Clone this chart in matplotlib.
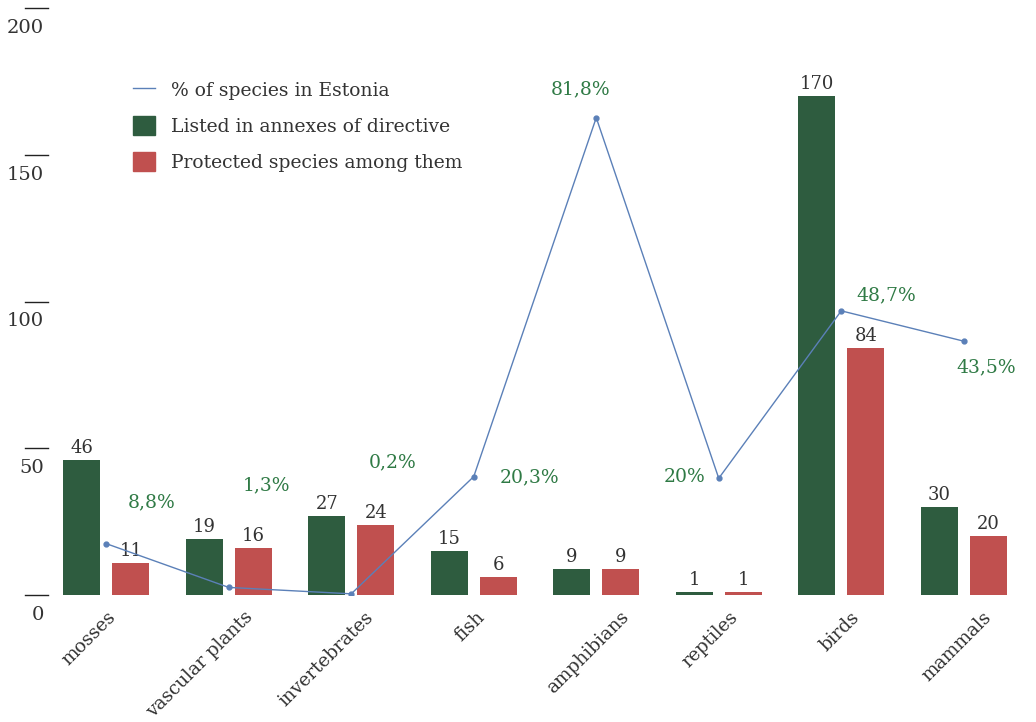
import numpy as np
import matplotlib
matplotlib.use("Agg")
import matplotlib.pyplot as plt
from matplotlib.patches import Patch
from matplotlib.lines import Line2D

plt.rcParams['font.family'] = ['DejaVu Serif']

# Species counts per group
categories = ['mosses', 'vascular plants', 'invertebrates', 'fish',
              'amphibians', 'reptiles', 'birds', 'mammals']
listed = [46, 19, 27, 15, 9, 1, 170, 30]
protected = [11, 16, 24, 6, 9, 1, 84, 20]
pct_estonia = [8.8, 1.3, 0.2, 20.3, 81.8, 20, 48.7, 43.5]

# where each percentage label sits relative to its point (pixels)
pct_offsets = [(45, 41), (38, 102), (41, 131), (56, -1),
               (-16, 28), (-34, 1), (45, 15), (22, -26)]
# small horizontal nudges for the rotated category names (pixels)
cat_dx = [0, 15, 13, 2, 24, 10, 9, 19]

green = '#2e5c3f'
red = '#c0504f'
blue = '#5b80b8'
pct_green = '#2f7a45'
text_col = '#333333'

fig = plt.figure(figsize=(10.36, 7.22), dpi=100)
ax = fig.add_axes([45 / 1036, (722 - 595) / 722, 980 / 1036, 587 / 722])

x = np.arange(len(categories))
w = 0.3
b1 = ax.bar(x - 0.2, listed, w, color=green)
b2 = ax.bar(x + 0.2, protected, w, color=red)

for bars, vals in ((b1, listed), (b2, protected)):
    for r, v in zip(bars, vals):
        ax.annotate(str(v), (r.get_x() + r.get_width() / 2, r.get_height()),
                    xytext=(0, 3), textcoords='offset pixels',
                    ha='center', va='bottom', fontsize=13, color=text_col)

ax.set_xlim(-0.5, len(categories) - 0.5)
ax.set_ylim(0, 200)
for s in ax.spines.values():
    s.set_visible(False)

# y ticks: short dash with the number underneath
ax.set_yticks([])
ytr = ax.get_yaxis_transform()
for t in [0, 50, 100, 150, 200]:
    ax.add_line(Line2D([-0.0204, 0.003], [t, t], transform=ytr,
                       color='#222222', lw=1, clip_on=False))
    ax.annotate(str(t), (-0.001, t), xycoords=ytr, xytext=(0, -11),
                textcoords='offset pixels', ha='right', va='top',
                fontsize=14, color=text_col, annotation_clip=False)

# category names, rotated under each group
ax.set_xticks([])
for xi, name, dx in zip(x, categories, cat_dx):
    ax.annotate(name, (xi, 0), xytext=(dx, -13), textcoords='offset pixels',
                rotation=45, rotation_mode='anchor', ha='right', va='top',
                fontsize=13.3, color=text_col, annotation_clip=False)

# percentage line on its own scale
ax2 = ax.twinx()
ax2.set_ylim(0, 100.6)
ax2.axis('off')
ax2.plot(x, pct_estonia, color=blue, lw=1, marker='o', ms=3.5)
for xi, p, off in zip(x, pct_estonia, pct_offsets):
    txt = (f'{p:g}').replace('.', ',') + '%'
    ax2.annotate(txt, (xi, p), xytext=off, textcoords='offset pixels',
                 ha='center', va='center', fontsize=13.5, color=pct_green)

handles = [Line2D([], [], color=blue, lw=1),
           Patch(color=green), Patch(color=red)]
labels = ['% of species in Estonia', 'Listed in annexes of directive',
          'Protected species among them']
leg = fig.legend(handles, labels, loc='upper left',
                 bbox_to_anchor=(133 / 1036, 1 - 80 / 722),
                 frameon=False, fontsize=13.5, handlelength=1.17,
                 handleheight=1.2, labelspacing=0.85, handletextpad=0.85,
                 borderpad=0, borderaxespad=0)
for t in leg.get_texts():
    t.set_color(text_col)

fig.savefig('out.png', dpi=100)
